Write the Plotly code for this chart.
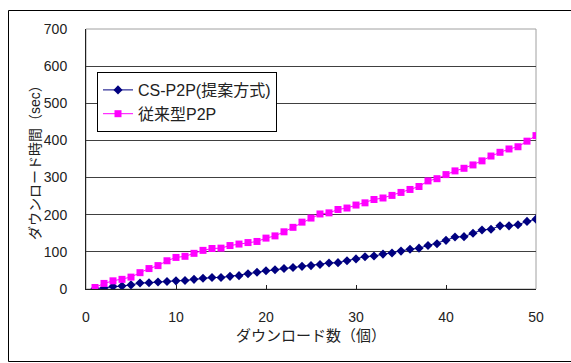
import plotly.graph_objects as go

# Number of downloads (1..50)
downloads = list(range(1, 51))

# Download time (sec) for the proposed CS-P2P scheme
cs_p2p = [1, 3, 7, 8, 11, 16, 17, 19, 20, 22,
          23, 26, 29, 31, 31, 34, 36, 41, 45, 49,
          52, 55, 58, 61, 63, 66, 70, 71, 76, 81,
          87, 89, 94, 97, 102, 107, 110, 117, 122, 131,
          140, 141, 150, 159, 161, 170, 170, 173, 182, 188]

# Download time (sec) for conventional P2P
conventional_p2p = [4, 15, 22, 26, 32, 44, 55, 63, 76, 85,
                    88, 96, 104, 109, 110, 117, 121, 125, 128, 137,
                    143, 154, 166, 180, 191, 202, 205, 214, 218, 226,
                    232, 241, 245, 252, 260, 268, 276, 291, 297, 308,
                    318, 325, 334, 345, 358, 368, 377, 383, 398, 413]

series_names = ["CS-P2P(提案方式)", "従来型P2P"]
x_title = "ダウンロード数（個）"
y_title = "ダウンロード時間（sec）"

FONT = "Liberation Sans, Noto Sans CJK JP, sans-serif"
TEXT = "#222222"

fig = go.Figure()
fig.add_trace(go.Scatter(
    x=downloads, y=cs_p2p, name=series_names[0], mode="lines+markers",
    line=dict(color="#000080", width=1),
    marker=dict(symbol="diamond", size=7, color="#000080"),
))
fig.add_trace(go.Scatter(
    x=downloads, y=conventional_p2p, name=series_names[1], mode="lines+markers",
    line=dict(color="#FF00FF", width=1),
    marker=dict(symbol="square", size=7, color="#FF00FF"),
))

W, H = 571, 363
L, R, T, B = 86, 35, 29, 74
pw, ph = W - L - R, H - T - B


def px_to_paper_x(px):
    return (px - L) / pw


def px_to_paper_y(py):
    return (H - B - py) / ph


fig.update_layout(
    width=W, height=H,
    margin=dict(l=L, r=R, t=T, b=B),
    paper_bgcolor="white", plot_bgcolor="white",
    font=dict(family=FONT, size=14, color=TEXT),
    showlegend=True,
    legend=dict(
        x=px_to_paper_x(97), y=px_to_paper_y(72),
        xanchor="left", yanchor="top",
        bgcolor="white", bordercolor="black", borderwidth=1,
        font=dict(size=16, color=TEXT),
        tracegroupgap=0, itemwidth=30,
    ),
    xaxis=dict(
        range=[0, 50], dtick=10, tick0=0,
        showgrid=False, zeroline=False,
        showline=True, linecolor="#202020", linewidth=1,
        ticks="inside", ticklen=4, tickcolor="#202020",
        ticklabelstandoff=15,
        tickfont=dict(size=14, color=TEXT),
        title=dict(text=x_title, font=dict(size=15, color=TEXT), standoff=6),
    ),
    yaxis=dict(
        range=[0, 700], dtick=100, tick0=0,
        showgrid=True, gridcolor="#404040", gridwidth=1,
        zeroline=False,
        showline=True, linecolor="#202020", linewidth=1,
        ticks="", ticklabelstandoff=15,
        tickfont=dict(size=14, color=TEXT),
    ),
    annotations=[
        # y-axis title
        dict(text=y_title, textangle=-90, showarrow=False,
             xref="paper", yref="paper", x=px_to_paper_x(35), y=0.5,
             xanchor="center", yanchor="middle",
             font=dict(size=14, color=TEXT)),
    ],
    shapes=[
        # plot area frame (gray on top and right)
        dict(type="rect", xref="paper", yref="paper", x0=0, x1=1, y0=0, y1=1,
             line=dict(color="#a0a0a0", width=1), layer="below"),
        # outer chart border
        dict(type="rect", xref="paper", yref="paper",
             x0=px_to_paper_x(8.5), x1=px_to_paper_x(575),
             y0=px_to_paper_y(361.5), y1=px_to_paper_y(10.5),
             line=dict(color="black", width=1), layer="below"),
    ],
)

fig.write_html("out.html")
